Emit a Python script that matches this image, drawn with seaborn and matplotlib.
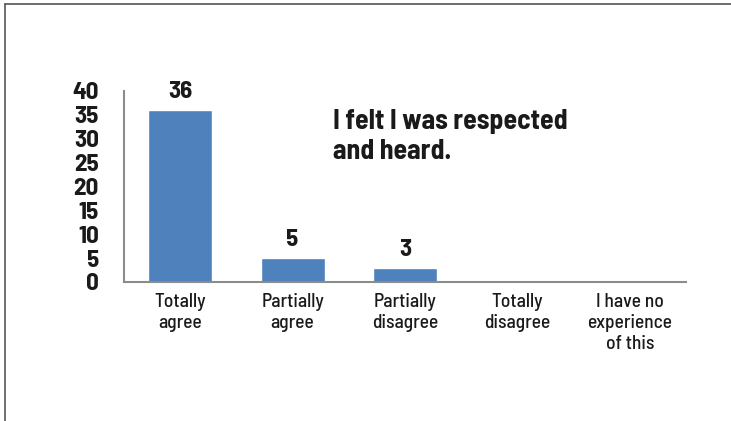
import matplotlib
matplotlib.use("Agg")
import matplotlib.pyplot as plt
from matplotlib.lines import Line2D
import seaborn as sns
import pandas as pd

categories = ["Totally\nagree", "Partially\nagree", "Partially\ndisagree",
              "Totally\ndisagree", "I have no\nexperience\nof this"]
counts = [36, 5, 3, 0, 0]
title = "I felt I was respected\nand heard."

sns.set_style("white")
plt.rcParams['font.family'] = ['Barlow Semi Condensed', 'DejaVu Sans']

df = pd.DataFrame({"answer": categories, "count": counts})

fig = plt.figure(figsize=(7.31, 4.21), dpi=100)
ax = fig.add_axes([0.1696, 0.3302, 0.7688, 0.4537])

sns.barplot(data=df, x="answer", y="count", color="#4F81BD", width=0.57,
            saturation=1, ax=ax)

ax.set_ylim(0, 40)
ax.set_yticks(range(0, 41, 5))
ax.set_xlim(-0.5, 4.5)
ax.set_xlabel("")
ax.set_ylabel("")
ax.tick_params(axis="y", labelsize=18, length=0, pad=18, labelcolor="#1a1a1a")
ax.tick_params(axis="x", labelsize=14, length=0, pad=8, labelcolor="#1a1a1a")
for lab in ax.get_yticklabels():
    lab.set_fontweight("bold")
for lab in ax.get_xticklabels():
    lab.set_fontweight("medium")
    lab.set_linespacing(1.2)

for s in ["top", "right"]:
    ax.spines[s].set_visible(False)
for s in ["left", "bottom"]:
    ax.spines[s].set_color("#8C8C8C")
    ax.spines[s].set_linewidth(1.5)

# value labels above non-zero bars
for i, v in enumerate(counts):
    if v > 0:
        ax.annotate(str(v), (i, v), xytext=(0, 5), textcoords="offset points",
                    ha="center", va="bottom", fontsize=18, fontweight="bold",
                    color="#1a1a1a")

fig.text(0.4555, 0.6223, title, ha="left", va="baseline",
         fontsize=20, fontweight="bold", color="#1a1a1a", linespacing=1.25)

# chart frame (left and top edges visible)
fig.add_artist(Line2D([0.0075, 0.0075], [0.0, 0.991], transform=fig.transFigure,
                      color="#555555", lw=1.2))
fig.add_artist(Line2D([0.0075, 1.0], [0.991, 0.991], transform=fig.transFigure,
                      color="#555555", lw=1.2))

fig.savefig("out.png", dpi=100)
